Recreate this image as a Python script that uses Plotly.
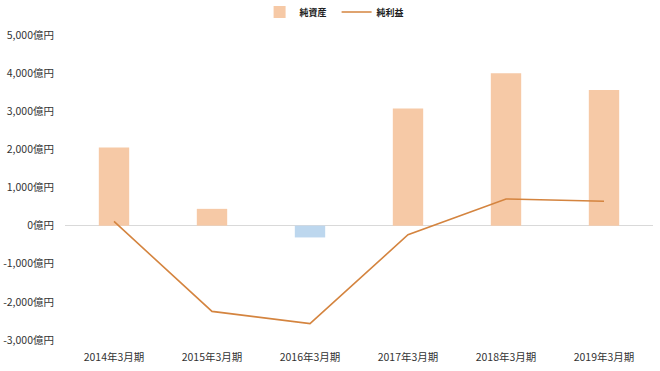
import plotly.graph_objects as go

categories = ["2014年3月期", "2015年3月期", "2016年3月期", "2017年3月期", "2018年3月期", "2019年3月期"]
net_assets = [2050, 440, -310, 3070, 4000, 3560]
net_income = [110, -2250, -2570, -240, 700, 640]
tick_vals = [-3000, -2000, -1000, 0, 1000, 2000, 3000, 4000, 5000]
tick_text = [f"{v:,}億円" for v in tick_vals]

POS = "#F6C9A6"
NEG = "#BDD7EE"
LINE = "#D4843F"
FONT = "Noto Sans CJK JP"

fig = go.Figure()
fig.add_trace(go.Bar(
    x=categories, y=net_assets, name="純資産",
    marker=dict(color=[POS if v >= 0 else NEG for v in net_assets], line=dict(width=0)),
    width=0.31,
))
fig.add_trace(go.Scatter(
    x=categories, y=net_income, name="純利益", mode="lines",
    line=dict(color=LINE, width=1.6),
))

fig.update_layout(
    width=660, height=371,
    margin=dict(l=65, r=7, t=35, b=31, autoexpand=False),
    paper_bgcolor="white", plot_bgcolor="white",
    font=dict(family=FONT, size=10.5, color="#333333"),
    showlegend=True,
    legend=dict(
        orientation="h", x=0.51, xanchor="center", xref="container",
        y=1 - 12 / 371, yanchor="middle", yref="container",
        font=dict(family=FONT, size=9, color="#202020", weight="bold"),
        itemwidth=30, tracegroupgap=0, entrywidth=32,
    ),
    xaxis=dict(showgrid=False, showline=False, ticks="", tickfont=dict(size=10.5),
               ticklabelstandoff=9),
    yaxis=dict(
        range=[-3000, 5000], tickvals=tick_vals, ticktext=tick_text,
        showgrid=False, zeroline=True, zerolinecolor="#D9D9D9", zerolinewidth=1,
        ticks="", ticklabelstandoff=10, tickfont=dict(size=10.5),
    ),
    bargap=0.69,
)

fig.write_html("out.html")
